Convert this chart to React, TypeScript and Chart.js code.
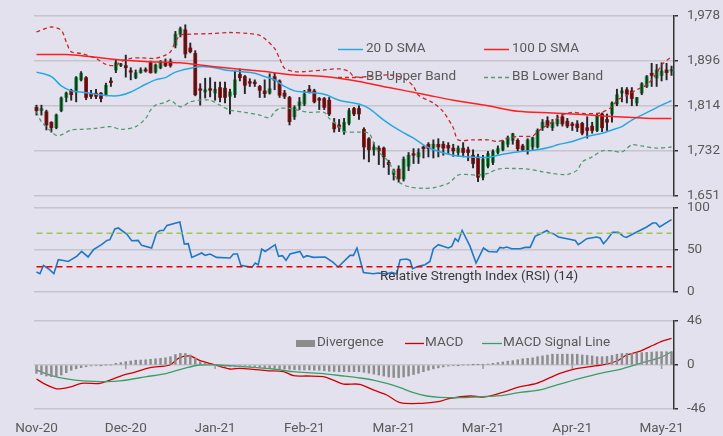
import React, { useEffect, useRef } from "react";
import { Chart, registerables } from "chart.js";
Chart.register(...registerables);

const BG = "#e4e1ee";
const FONT_FAMILY = "Roboto, 'Liberation Sans', sans-serif";
const TEXT = "#595959";
const GRID = "#c6c4cc";
const AXIS = "#333333";

// ---------- x axis ----------
const xTickIdx = [0, 18, 36, 54, 72, 90, 108, 126];
const xTickLabels = ["Nov-20", "Dec-20", "Jan-21", "Feb-21", "Mar-21", "Mar-21", "Apr-21", "May-21"];

// ---------- y ticks ----------
const priceTicks = [1651, 1732.75, 1814.5, 1896.25, 1978];
const priceTickLabels = ["1,651", "1,732", "1,814", "1,896", "1,978"];
const rsiTicks = [0, 50, 100];
const macdTicks = [-46, 0, 46];

// ---------- OHLC (one per trading day) ----------
const openP = [1812,1806,1804,1785,1775,1806,1830,1843,1840,1862,1866,1836,1838,1838,1834,1860,1880,1888,1888,1878,1866,1875,1880,1893,1876,1884,1893,1895,1925,1945,1953,1920,1910,1845,1840,1846,1838,1848,1847,1832,1835,1872,1868,1858,1858,1850,1842,1838,1868,1860,1838,1830,1795,1815,1818,1845,1842,1828,1828,1825,1784,1780,1768,1783,1810,1810,1772,1755,1735,1738,1738,1712,1690,1700,1682,1705,1728,1722,1740,1745,1738,1745,1745,1743,1738,1730,1738,1735,1725,1722,1685,1705,1712,1730,1735,1745,1752,1752,1742,1733,1740,1740,1775,1788,1775,1782,1795,1787,1782,1782,1783,1775,1778,1770,1800,1790,1800,1818,1838,1844,1842,1820,1838,1850,1874,1865,1870,1880,1878];
const highP = [1816,1816,1807,1786,1800,1831,1840,1845,1868,1877,1868,1843,1845,1839,1856,1866,1898,1892,1907,1884,1880,1884,1884,1896,1891,1897,1900,1900,1950,1958,1962,1929,1915,1855,1865,1866,1858,1858,1858,1845,1878,1882,1870,1864,1862,1852,1862,1873,1874,1862,1843,1832,1815,1830,1843,1852,1845,1830,1830,1830,1792,1790,1792,1810,1812,1815,1775,1757,1748,1742,1740,1716,1700,1706,1722,1730,1737,1737,1742,1748,1753,1755,1750,1748,1745,1742,1748,1740,1735,1727,1725,1732,1735,1742,1752,1760,1765,1755,1745,1755,1758,1773,1790,1795,1790,1798,1800,1792,1785,1788,1785,1795,1785,1800,1802,1800,1822,1845,1848,1848,1848,1830,1857,1870,1892,1890,1893,1892,1887];
const lowP = [1798,1798,1771,1767,1773,1804,1822,1825,1822,1860,1826,1828,1828,1822,1833,1850,1875,1886,1867,1862,1864,1874,1876,1874,1874,1882,1886,1885,1920,1940,1902,1911,1833,1816,1829,1831,1825,1822,1820,1800,1830,1860,1837,1850,1850,1830,1830,1836,1844,1830,1828,1780,1790,1808,1815,1838,1820,1808,1808,1797,1767,1768,1763,1780,1797,1790,1718,1713,1725,1708,1703,1690,1680,1676,1678,1697,1710,1710,1720,1722,1720,1722,1725,1728,1723,1723,1722,1715,1702,1677,1680,1702,1708,1727,1733,1740,1745,1733,1733,1727,1735,1738,1770,1775,1770,1778,1778,1775,1770,1768,1762,1756,1765,1768,1768,1770,1785,1815,1822,1820,1815,1815,1835,1848,1850,1850,1860,1862,1870];
const closeP = [1806,1810,1780,1775,1798,1829,1838,1835,1866,1874,1830,1832,1832,1828,1852,1857,1893,1891,1884,1876,1875,1880,1878,1875,1889,1895,1888,1888,1945,1955,1909,1913,1835,1843,1844,1843,1845,1830,1830,1840,1862,1866,1852,1856,1855,1843,1837,1846,1861,1834,1832,1786,1812,1822,1836,1840,1822,1825,1812,1800,1773,1776,1785,1806,1800,1800,1740,1735,1740,1733,1722,1708,1697,1682,1718,1725,1725,1730,1737,1737,1745,1740,1738,1738,1733,1738,1730,1730,1710,1685,1718,1728,1732,1737,1750,1757,1764,1737,1735,1753,1757,1770,1785,1778,1785,1790,1782,1778,1779,1775,1765,1770,1770,1796,1775,1785,1820,1835,1842,1836,1828,1830,1855,1868,1870,1880,1878,1875,1880];

// ---------- overlays: [day index, value] ----------
const sma20 = [[0,1876],[3,1868],[5,1851],[7,1842],[9,1840],[12,1836],[15,1833],[17,1834],[19,1840],[22,1854],[24,1862],[26,1866],[28,1876],[32,1885],[34,1886],[36,1884],[38,1880],[41,1877],[44,1874],[46,1868],[48,1862],[50,1850],[52,1842],[54,1840],[58,1836],[61,1825],[65,1818],[67,1810],[70,1789],[73,1771],[76,1756],[78,1744],[80,1735],[84,1725],[87,1722],[91,1721],[94,1727],[97,1731],[101,1735],[104,1741],[105,1744],[108,1750],[111,1759],[114,1765],[116,1771],[118,1777],[120,1789],[122,1798],[124,1807],[126,1816],[128,1824]];
const sma100 = [[0,1908],[6,1908],[11,1904],[16,1899],[21,1896],[26,1894],[29,1893],[33,1889],[38,1884],[45,1878],[52,1871],[58,1868],[65,1859],[71,1848],[78,1836],[84,1825],[91,1815],[97,1805],[104,1802],[110,1799],[117,1795],[124,1792],[128,1792]];
const bbUpper = [[0,1949],[3,1958],[5,1952],[6,1931],[7,1913],[9,1910],[12,1901],[14,1890],[16,1888],[17,1895],[19,1901],[21,1902],[23,1901],[24,1901],[26,1907],[27,1913],[28,1931],[29,1943],[31,1945],[35,1946],[39,1948],[43,1946],[45,1943],[46,1937],[48,1919],[49,1901],[50,1883],[52,1877],[54,1877],[58,1880],[61,1882],[63,1877],[64,1868],[67,1868],[71,1871],[74,1865],[76,1850],[77,1834],[80,1820],[82,1804],[84,1775],[85,1753],[88,1753],[91,1753],[93,1750],[95,1756],[97,1759],[100,1760],[101,1768],[103,1780],[104,1786],[106,1798],[108,1803],[110,1801],[113,1801],[114,1803],[116,1813],[117,1825],[119,1834],[121,1844],[123,1853],[125,1874],[126,1889],[128,1904]];
const bbLower = [[0,1804],[1,1786],[3,1768],[4,1761],[5,1762],[7,1771],[9,1772],[12,1774],[15,1777],[17,1772],[20,1777],[22,1792],[23,1807],[24,1816],[26,1821],[27,1825],[29,1813],[31,1822],[33,1825],[35,1825],[37,1816],[39,1807],[42,1803],[45,1798],[47,1793],[48,1804],[49,1810],[51,1810],[55,1803],[58,1803],[59,1792],[61,1777],[62,1768],[65,1767],[67,1765],[68,1747],[69,1731],[71,1713],[72,1695],[73,1677],[75,1668],[78,1665],[80,1666],[83,1674],[85,1689],[87,1690],[89,1689],[91,1692],[93,1700],[96,1701],[99,1700],[102,1695],[104,1692],[106,1690],[107,1690],[109,1698],[110,1713],[112,1722],[114,1733],[116,1733],[118,1731],[120,1744],[122,1742],[125,1738],[128,1740]];

// ---------- RSI (14) ----------
const rsi14 = [[0,23.8],[0.7,21.8],[1.4,31.7],[2.4,27.7],[3.5,21.8],[4.4,38.5],[5.4,37.6],[6.4,36.4],[8.1,42.4],[9.1,48.3],[10.4,41.7],[11.5,50.4],[13.1,56.3],[14.2,61.4],[14.8,62.3],[15.8,75],[16.5,76.2],[18.2,69],[19.2,61],[20.5,61.4],[21.2,55.5],[23.2,52.4],[24.2,70.2],[24.9,73.3],[25.6,73.3],[26.3,79.3],[28.9,83.3],[29.8,57.1],[30.6,57.5],[31.3,41.2],[33.3,46.4],[34,43.6],[35,45.2],[36.3,41.2],[39,40.5],[39.7,45.2],[40.5,45.2],[41.2,31.7],[43.4,29.3],[44.1,34.5],[44.7,32.5],[45.4,51.2],[46.1,48.3],[48.1,56.3],[48.8,42.4],[49.6,43.2],[50.3,37.6],[51.1,45.2],[53.1,48.3],[53.8,41.2],[54.5,43.2],[55.8,41.2],[58.2,41.7],[59.8,35.2],[60.8,29.8],[63.2,43.6],[63.9,43.6],[64.6,52.4],[65.1,41.2],[65.9,23.3],[67.9,21.8],[68.9,22.6],[70.6,21.4],[71.6,23.3],[72.6,21.4],[73.3,38.5],[74.6,39.3],[75.3,37.6],[75.8,27.7],[77,30.5],[78.3,32.5],[79.3,36.4],[80,51.5],[81,56.3],[83,52.4],[83.7,54.3],[84.4,63.5],[85,60.2],[85.8,73.3],[87.4,54.3],[88.6,34.5],[90.1,52.4],[91.1,48.3],[92.8,47.6],[93.4,53.1],[94.1,52.4],[94.8,53.6],[95.8,51.5],[97.5,51.5],[98.5,53.1],[99.5,53.1],[100.5,66.2],[101.9,70.2],[102.9,73.3],[103.5,70.2],[104.2,69.4],[105.2,65.5],[107.2,63.1],[108.6,61.4],[109.2,56.3],[109.9,59],[110.9,63.5],[112.9,65.5],[113.6,64.3],[114.3,57.5],[115,62.3],[116.1,71],[117.3,71],[118.3,66.2],[118.9,65],[120.3,69.4],[123,77.4],[124.2,82.1],[124.9,82.1],[125.6,77.4],[128,86.1]];
const rsiOverbought = 70;
const rsiOversold = 30;

// ---------- MACD ----------
const macdLine = [[0,-14.6],[1.4,-19.2],[3.7,-24.4],[4.7,-25],[7.1,-22.6],[9.1,-19.2],[12.8,-19.2],[14.8,-15.7],[17.5,-10.5],[19.5,-8],[22.9,-2.8],[26.9,0],[28.6,7],[30.9,9.4],[33,4.5],[35.6,0.7],[39,-4.2],[41,-3.5],[43.7,-4.5],[46.4,-5.9],[49.8,-7],[51.8,-11.2],[54.5,-11.5],[57.8,-12.2],[59.8,-15.7],[61.9,-19.9],[65.2,-20.2],[67.9,-26.1],[70.6,-31.4],[73.3,-39.4],[77.7,-40.1],[81,-38.4],[83.4,-34.8],[87.4,-32.4],[90.1,-33.5],[92.1,-31.4],[94.8,-27.2],[97.5,-22.7],[100.8,-19.2],[103.5,-13.3],[105.5,-8.7],[108.2,-4.5],[111.6,-1.7],[114.6,0.7],[117,4.2],[119,10.5],[121.7,14.6],[124.4,20.9],[126.4,25.4],[128,27.9]];
const macdSignal = [[0,-5.2],[2.7,-10.5],[6.1,-14.6],[9.4,-16.7],[14.2,-17.4],[16.8,-16.7],[22.2,-12.2],[26.3,-8.7],[30.3,-2.8],[33,0],[36.3,0],[39.7,-1],[43.7,-2.4],[47.7,-4.2],[51.8,-7],[57.2,-8.7],[61.9,-11.5],[65.2,-13.6],[67.9,-15.7],[70.6,-19.2],[73.3,-23.7],[76,-28.9],[78.7,-32.4],[81.3,-33.8],[85.4,-34.2],[89.4,-33.1],[93.4,-32.1],[97.5,-28.6],[101.5,-26.1],[105.5,-19.9],[109.6,-13.9],[113.6,-8.7],[117.6,-4.5],[121.7,1.8],[125.7,7.6],[128,13.9]];
const divergence = [-8.7,-10,-11.5,-12.2,-12,-10.5,-8,-5.5,-4,-2.8,-1.8,-1,-0.7,-0.3,0,0,1.7,2.5,3.5,4.2,5,5.2,5.5,6,6.5,7,7.5,8.7,11,12.2,12,10.5,7,3.5,1.7,0.7,0,-1,-1.5,-1.7,-2,-2,-2,-2,-2.3,-2.5,-2.8,-3,-3.5,-3.8,-4.2,-4.5,-5,-5.2,-5.2,-5.2,-5.5,-5.5,-6,-6.5,-6.8,-7,-7,-7,-7,-7,-7.5,-8.5,-9.5,-10.5,-11.5,-12.5,-13,-13.2,-12.5,-11.5,-10,-8.7,-7,-5.5,-4,-3,-2,-1.2,-0.7,-0.3,0,0,0.2,0.3,0.5,1,1.7,2.5,3.2,4,4.5,5.5,6.5,7,7.5,8.7,9.5,10.4,11.3,11.3,11.3,11.3,11.3,11.3,10.5,10,9.5,8.7,8.7,9,10,11.3,12,12.2,12.2,12.5,13,13.2,13.5,13.9,13.9,13.9,13.9];

// ---------- series colours ----------
const C_SMA20 = "#29a8e0";
const C_SMA100 = "#ff1f1f";
const C_BBU = "#c42b2b";
const C_BBL = "#4f9d6c";
const C_UP = "#1fb04f";
const C_DOWN = "#c40000";
const C_WICK = "#262626";
const C_RSI = "#1f78c4";
const C_MACD = "#d00000";
const C_SIG = "#3a9e68";
const C_DIV = "#8c8c8c";

const pts = (a: number[][]) => a.map(([x, y]) => ({ x, y }));
const idx = (a: number[]) => a.map((_, i) => i);

const font = (size: number) => ({ family: FONT_FAMILY, size });

function xAxis(display: boolean): any {
  return {
    type: "linear",
    min: -0.5,
    max: 128.5,
    offset: false,
    display,
    grid: { display: false, drawTicks: false, drawOnChartArea: false },
    border: { display: false },
    afterBuildTicks: (s: any) => {
      s.ticks = xTickIdx.map((v) => ({ value: v }));
    },
    afterFit: (s: any) => {
      s.height = display ? 27 : 0;
      s.paddingLeft = 0;
      s.paddingRight = 0;
    },
    ticks: {
      autoSkip: false,
      maxRotation: 0,
      minRotation: 0,
      padding: 12,
      color: TEXT,
      font: font(13.5),
      callback: (v: number) => {
        const k = xTickIdx.indexOf(v);
        return k >= 0 ? xTickLabels[k] : "";
      },
    },
  };
}

function yAxis(min: number, max: number, ticks: number[], labels?: string[]): any {
  return {
    type: "linear",
    position: "right",
    min,
    max,
    afterBuildTicks: (s: any) => {
      s.ticks = ticks.map((v) => ({ value: v }));
    },
    afterFit: (s: any) => {
      s.width = 49;
      s.paddingTop = 0;
      s.paddingBottom = 0;
    },
    grid: { color: GRID, lineWidth: 1.5, drawTicks: true, tickLength: 4, tickColor: AXIS, tickWidth: 1.5 },
    border: { display: true, color: AXIS, width: 1.5 },
    ticks: {
      padding: 9,
      color: TEXT,
      font: font(13.5),
      callback: (v: number) => {
        const k = ticks.indexOf(v);
        return labels ? labels[k] : String(v);
      },
    },
  };
}

const baseOpts = (padding: any) => ({
  responsive: false,
  animation: false as const,
  events: [] as any[],
  layout: { padding },
  plugins: { legend: { display: false }, tooltip: { enabled: false } },
});

const lineDs = (label: string, data: number[][], color: string, dash: number[] = [], width = 1.5, tension = 0.3) => ({
  type: "line" as const,
  label,
  data: pts(data),
  borderColor: color,
  borderWidth: width,
  borderDash: dash,
  pointRadius: 0,
  tension,
  fill: false,
});

// legend / label plugins
const priceLegend = {
  id: "priceLegend",
  afterDraw(chart: any) {
    const ctx = chart.ctx;
    const items = [
      { x: 338, y: 49, label: "20 D SMA", color: C_SMA20, dash: [] as number[] },
      { x: 484, y: 49, label: "100 D SMA", color: C_SMA100, dash: [] as number[] },
      { x: 338, y: 77, label: "BB Upper Band", color: C_BBU, dash: [4, 3] },
      { x: 484, y: 77, label: "BB Lower Band", color: C_BBL, dash: [4, 3] },
    ];
    ctx.save();
    ctx.font = `13.5px ${FONT_FAMILY}`;
    ctx.textBaseline = "middle";
    items.forEach((it) => {
      ctx.strokeStyle = it.color;
      ctx.lineWidth = 1.5;
      ctx.setLineDash(it.dash);
      ctx.beginPath();
      ctx.moveTo(it.x, it.y + 0.5);
      ctx.lineTo(it.x + 25, it.y + 0.5);
      ctx.stroke();
      ctx.setLineDash([]);
      ctx.fillStyle = TEXT;
      ctx.fillText(it.label, it.x + 28, it.y);
    });
    ctx.restore();
  },
};

const rsiLabel = {
  id: "rsiLabel",
  afterDraw(chart: any) {
    const ctx = chart.ctx;
    ctx.save();
    ctx.font = `13.5px ${FONT_FAMILY}`;
    ctx.textBaseline = "middle";
    ctx.fillStyle = "#3a3a3a";
    ctx.fillText("Relative Strength Index (RSI) (14)", 380, 77);
    ctx.restore();
  },
};

const macdDecor = {
  id: "macdDecor",
  afterDatasetsDraw(chart: any) {
    const { ctx, scales } = chart;
    const x = scales.x;
    const y = scales.y;
    const y0 = y.getPixelForValue(0);
    ctx.save();
    ctx.strokeStyle = "#9a9a9a";
    ctx.lineWidth = 1.5;
    xTickIdx.forEach((i) => {
      const px = x.getPixelForValue(i);
      ctx.beginPath();
      ctx.moveTo(px, y0);
      ctx.lineTo(px, y0 + 4);
      ctx.stroke();
    });
    ctx.restore();
  },
  afterDraw(chart: any) {
    const ctx = chart.ctx;
    ctx.save();
    ctx.font = `13.5px ${FONT_FAMILY}`;
    ctx.textBaseline = "middle";
    ctx.fillStyle = C_DIV;
    ctx.fillRect(296, 40, 19, 7);
    ctx.fillStyle = TEXT;
    ctx.fillText("Divergence", 317, 43);
    ctx.lineWidth = 1.3;
    ctx.strokeStyle = C_MACD;
    ctx.beginPath();
    ctx.moveTo(405, 43.5);
    ctx.lineTo(424, 43.5);
    ctx.stroke();
    ctx.fillText("MACD", 425, 43);
    ctx.strokeStyle = C_SIG;
    ctx.beginPath();
    ctx.moveTo(482, 43.5);
    ctx.lineTo(502, 43.5);
    ctx.stroke();
    ctx.fillText("MACD Signal Line", 503, 43);
    ctx.restore();
  },
};

export default function App() {
  const priceRef = useRef<HTMLCanvasElement>(null);
  const rsiRef = useRef<HTMLCanvasElement>(null);
  const macdRef = useRef<HTMLCanvasElement>(null);

  useEffect(() => {
    const days = idx(closeP);
    const price = new Chart(priceRef.current!, {
      type: "bar",
      data: {
        datasets: [
          lineDs("BB Lower Band", bbLower, C_BBL, [4, 3], 1.3),
          lineDs("BB Upper Band", bbUpper, C_BBU, [4, 3], 1.3),
          lineDs("100 D SMA", sma100, C_SMA100, [], 1.5),
          lineDs("20 D SMA", sma20, C_SMA20, [], 1.5),
          {
            type: "bar",
            label: "High-Low",
            data: days.map((i) => ({ x: i, y: [lowP[i], highP[i]] })),
            backgroundColor: C_WICK,
            barThickness: 1.3,
            grouped: false,
          } as any,
          {
            type: "bar",
            label: "Open-Close",
            data: days.map((i) => ({ x: i, y: [openP[i], closeP[i]] })),
            backgroundColor: days.map((i) => (closeP[i] >= openP[i] ? C_UP : C_DOWN)),
            barThickness: 3.2,
            minBarLength: 1.5,
            grouped: false,
          } as any,
        ],
      },
      options: {
        ...baseOpts({ top: 16, bottom: 4, left: 34, right: 0 }),
        scales: { x: xAxis(false), y: yAxis(1651, 1978, priceTicks, priceTickLabels) },
      } as any,
      plugins: [priceLegend],
    });

    const rsi = new Chart(rsiRef.current!, {
      type: "line",
      data: {
        datasets: [
          lineDs("Overbought", [[0, rsiOverbought], [128, rsiOverbought]], "#9cc852", [6, 4], 1.5, 0),
          lineDs("Oversold", [[0, rsiOversold], [128, rsiOversold]], "#e60000", [6, 4], 1.5, 0),
          lineDs("RSI (14)", rsi14, C_RSI, [], 1.6, 0),
        ],
      },
      options: {
        ...baseOpts({ top: 8, bottom: 8, left: 34, right: 0 }),
        scales: { x: xAxis(false), y: yAxis(0, 100, rsiTicks) },
      } as any,
      plugins: [rsiLabel],
    });

    const macd = new Chart(macdRef.current!, {
      type: "bar",
      data: {
        datasets: [
          {
            type: "bar",
            label: "Divergence",
            data: divergence.map((v, i) => ({ x: i, y: v })),
            backgroundColor: C_DIV,
            barThickness: 1.8,
            grouped: false,
          } as any,
          lineDs("MACD Signal Line", macdSignal, C_SIG, [], 1.3),
          lineDs("MACD", macdLine, C_MACD, [], 1.3),
        ],
      },
      options: {
        ...baseOpts({ top: 21, bottom: 0, left: 34, right: 0 }),
        scales: { x: xAxis(true), y: yAxis(-46, 46, macdTicks) },
      } as any,
      plugins: [macdDecor],
    });

    return () => {
      price.destroy();
      rsi.destroy();
      macd.destroy();
    };
  }, []);

  return (
    <div style={{ position: "absolute", left: 0, top: 0, width: 723, height: 436, background: BG, overflow: "hidden" }}>
      <canvas ref={priceRef} width={723} height={200} style={{ position: "absolute", left: 0, top: 0 }} />
      <canvas ref={rsiRef} width={723} height={100} style={{ position: "absolute", left: 0, top: 200 }} />
      <canvas ref={macdRef} width={723} height={136} style={{ position: "absolute", left: 0, top: 300 }} />
    </div>
  );
}
